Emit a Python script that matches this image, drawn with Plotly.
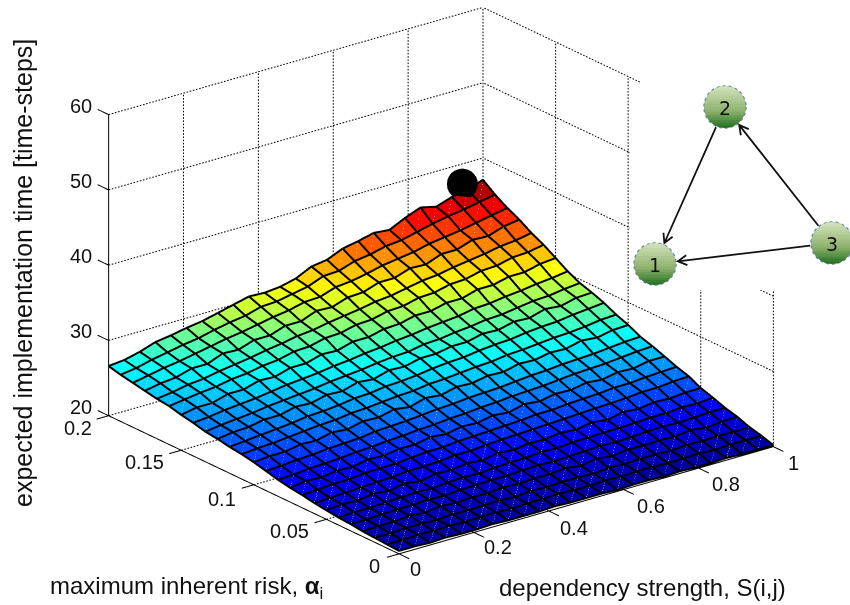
import numpy as np
import plotly.graph_objects as go

# ---------- data ----------
strength = [0.0, 0.0417, 0.0833, 0.125, 0.1667, 0.2083, 0.25, 0.2917, 0.3333, 0.375, 0.4167, 0.4583, 0.5,
            0.5417, 0.5833, 0.625, 0.6667, 0.7083, 0.75, 0.7917, 0.8333, 0.875, 0.9167, 0.9583, 1.0]
risk = [0.0, 0.0083, 0.0167, 0.025, 0.0333, 0.0417, 0.05, 0.0583, 0.0667, 0.075, 0.0833, 0.0917, 0.1,
        0.1083, 0.1167, 0.125, 0.1333, 0.1417, 0.15, 0.1583, 0.1667, 0.175, 0.1833, 0.1917, 0.2]
time_steps = [
[20.3,20.3,20.2,20.3,20.2,20.2,20.3,20.2,20.2,20.2,20.3,20.2,20.2,20.2,20.1,20.2,20.2,20.1,20.2,20.1,20.1,20.2,20.1,20.1,20.1],
[20.4,20.4,20.5,20.4,20.5,20.4,20.5,20.5,20.4,20.5,20.5,20.6,20.5,20.5,20.6,20.5,20.6,20.6,20.5,20.6,20.6,20.5,20.6,20.6,20.6],
[20.5,20.5,20.6,20.6,20.5,20.7,20.6,20.7,20.7,20.6,20.8,20.7,20.8,20.8,20.7,20.9,20.8,20.9,20.9,20.8,21.0,20.9,21.0,20.9,21.0],
[20.6,20.7,20.7,20.9,20.7,21.0,20.8,21.0,20.9,21.1,21.0,21.1,21.1,21.3,21.0,21.4,21.1,21.4,21.3,21.4,21.3,21.6,21.3,21.5,21.6],
[20.8,20.8,20.9,21.0,21.0,21.1,21.0,21.2,21.2,21.3,21.3,21.4,21.5,21.4,21.5,21.6,21.7,21.6,21.7,21.8,21.9,21.8,21.9,22.0,22.0],
[20.9,21.0,21.0,21.1,21.2,21.3,21.2,21.4,21.5,21.4,21.6,21.7,21.7,21.9,21.8,22.0,22.0,22.1,22.1,22.2,22.3,22.3,22.5,22.4,22.6],
[21.1,21.3,21.2,21.5,21.3,21.7,21.4,21.8,21.7,22.0,21.8,22.2,22.0,22.3,22.2,22.5,22.3,22.7,22.4,22.9,22.7,23.0,22.9,23.1,23.1],
[21.3,21.4,21.5,21.6,21.7,21.8,22.0,22.0,22.1,22.3,22.3,22.5,22.6,22.7,22.8,22.9,23.0,23.1,23.2,23.3,23.4,23.6,23.6,23.8,23.9],
[21.6,21.7,21.9,21.9,22.1,22.2,22.2,22.4,22.6,22.6,22.8,22.9,23.0,23.1,23.2,23.4,23.4,23.6,23.7,23.8,24.0,24.0,24.2,24.3,24.4],
[21.8,22.1,22.0,22.3,22.2,22.6,22.5,22.8,22.8,23.2,23.0,23.4,23.3,23.7,23.5,24.0,23.8,24.2,24.1,24.5,24.3,24.7,24.6,25.0,25.0],
[22.1,22.2,22.4,22.5,22.6,22.8,22.9,23.1,23.2,23.4,23.5,23.7,23.8,24.0,24.1,24.3,24.4,24.5,24.7,24.9,25.0,25.1,25.3,25.5,25.6],
[22.5,22.6,22.8,22.9,23.1,23.2,23.3,23.6,23.7,23.8,24.0,24.2,24.3,24.5,24.6,24.7,24.9,25.1,25.2,25.4,25.5,25.6,25.8,26.0,26.1],
[22.9,23.1,23.1,23.5,23.4,23.9,23.7,24.2,24.1,24.6,24.3,24.9,24.7,25.2,25.1,25.5,25.4,25.9,25.8,26.2,26.1,26.6,26.4,26.8,26.9],
[23.2,23.4,23.5,23.7,23.9,24.1,24.2,24.5,24.6,24.8,25.0,25.1,25.4,25.5,25.7,25.9,26.0,26.3,26.4,26.6,26.8,26.9,27.1,27.4,27.5],
[23.4,23.6,23.8,24.0,24.2,24.5,24.6,24.8,25.1,25.2,25.5,25.6,25.8,26.1,26.3,26.4,26.7,26.9,27.0,27.3,27.5,27.6,27.9,28.1,28.3],
[23.7,24.0,24.1,24.5,24.5,25.0,24.9,25.4,25.3,25.9,25.7,26.3,26.2,26.7,26.7,27.1,27.1,27.6,27.5,28.0,27.9,28.5,28.3,28.8,28.9],
[23.9,24.2,24.4,24.6,24.9,25.1,25.3,25.5,25.8,26.0,26.2,26.5,26.7,26.8,27.2,27.3,27.6,27.8,28.1,28.2,28.5,28.8,28.9,29.2,29.4],
[24.3,24.5,24.8,25.0,25.2,25.5,25.8,26.0,26.2,26.5,26.7,27.0,27.2,27.5,27.7,28.0,28.2,28.4,28.8,28.9,29.2,29.4,29.7,29.9,30.2],
[24.6,25.0,25.0,25.6,25.6,26.2,26.1,26.7,26.7,27.3,27.2,27.8,27.8,28.3,28.4,28.9,28.9,29.4,29.4,30.0,30.0,30.5,30.5,31.0,31.2],
[25.0,25.3,25.6,25.8,26.2,26.4,26.8,27.0,27.5,27.6,28.1,28.2,28.7,28.8,29.3,29.4,29.9,30.0,30.5,30.6,31.1,31.2,31.7,31.8,32.2],
[25.2,25.5,25.9,26.1,26.5,26.8,27.1,27.5,27.8,28.2,28.4,28.8,29.1,29.4,29.8,30.0,30.4,30.8,31.0,31.4,31.7,32.0,32.4,32.6,33.0],
[25.5,25.9,26.1,26.7,26.7,27.5,27.4,28.1,28.1,28.8,28.8,29.6,29.5,30.2,30.3,31.0,31.0,31.7,31.6,32.4,32.4,33.1,33.0,33.7,34.0],
[25.8,26.2,26.6,26.9,27.3,27.7,28.1,28.4,28.8,29.2,29.5,30.0,30.1,30.8,31.0,31.4,31.9,32.2,32.5,33.0,33.3,33.6,34.0,34.4,34.8],
[26.1,26.4,26.9,27.3,27.7,28.0,28.5,28.9,29.2,29.8,29.9,30.3,30.7,31.5,31.6,32.3,32.6,33.1,33.3,33.8,34.3,34.7,35.0,35.4,35.8],
[26.5,26.7,27.2,27.9,28.2,28.6,28.9,29.4,29.9,30.4,30.3,30.5,31.0,32.0,32.3,33.2,33.6,34.1,33.9,34.9,35.7,35.2,35.9,36.3,37.0],
]
peak_x, peak_y, peak_z = [0.944], [0.2], [37.4]

x_ticks = [0, 0.2, 0.4, 0.6, 0.8, 1]
x_tick_labels = ["0", "0.2", "0.4", "0.6", "0.8", "1"]
y_ticks = [0, 0.05, 0.1, 0.15, 0.2]
y_tick_labels = ["0", "0.05", "0.1", "0.15", "0.2"]
z_ticks = [20, 30, 40, 50, 60]
z_tick_labels = ["20", "30", "40", "50", "60"]

node_names = ["1", "2", "3"]
edges = [(1, 0), (2, 1), (2, 0)]

# ---------- layout constants ----------
W, H = 850, 605
FONT = "Liberation Sans"
node_px = [(655, 264), (725, 107), (832, 243)]
NODE_R = 21
X = np.array(strength); Y = np.array(risk); Z = np.array(time_steps)
nx, ny = len(X), len(Y)


def segs(pairs):
    xs, ys, zs = [], [], []
    for a, b in pairs:
        xs += [a[0], b[0], None]; ys += [a[1], b[1], None]; zs += [a[2], b[2], None]
    return xs, ys, zs


def line_trace(pairs, color="black", width=1, dash=None):
    xs, ys, zs = segs(pairs)
    return go.Scatter3d(x=xs, y=ys, z=zs, mode="lines", hoverinfo="skip", showlegend=False,
                        line=dict(color=color, width=width, dash=dash))


def dotted(a, b, n):
    a = np.array(a, float); b = np.array(b, float)
    out = []
    for s in range(n):
        out.append((tuple(a + (b - a) * s / n), tuple(a + (b - a) * (s + 0.5) / n)))
    return out


fig = go.Figure()

# surface as flat-coloured quads
gx, gy = np.meshgrid(X, Y)
idx = lambda r, c: r * nx + c
I, J, K, cell = [], [], [], []
for r in range(ny - 1):
    for c in range(nx - 1):
        v = Z[r:r + 2, c:c + 2].mean()
        I += [idx(r, c), idx(r, c)]
        J += [idx(r, c + 1), idx(r + 1, c + 1)]
        K += [idx(r + 1, c + 1), idx(r + 1, c)]
        cell += [v, v]
jet = [[0, "#00008f"], [0.125, "#0000ff"], [0.375, "#00ffff"], [0.625, "#ffff00"], [0.875, "#ff0000"], [1, "#800000"]]
fig.add_trace(go.Mesh3d(x=gx.ravel(), y=gy.ravel(), z=Z.ravel(), i=I, j=J, k=K,
                        intensity=cell, intensitymode="cell", colorscale=jet, cmin=20, cmax=37,
                        showscale=False, flatshading=True, hoverinfo="skip",
                        lighting=dict(ambient=1, diffuse=0, specular=0, fresnel=0, roughness=1)))

# faint seam inside each face
seams = []
for r in range(ny - 1):
    for c in range(nx - 1):
        seams.append(((X[c], Y[r], Z[r, c] + 0.07), (X[c + 1], Y[r + 1], Z[r + 1, c + 1] + 0.07)))
fig.add_trace(line_trace(seams, "rgba(255,255,255,0.28)", 1))

# mesh lines
lift = 0.1
pairs = []
for r in range(ny):
    for c in range(nx - 1):
        pairs.append(((X[c], Y[r], Z[r, c] + lift), (X[c + 1], Y[r], Z[r, c + 1] + lift)))
for c in range(nx):
    for r in range(ny - 1):
        pairs.append(((X[c], Y[r], Z[r, c] + lift), (X[c], Y[r + 1], Z[r + 1, c] + lift)))
fig.add_trace(line_trace(pairs, "black", 4))

# dotted grid on walls and floor
x0, x1 = x_ticks[0], x_ticks[-1]
y0, y1 = y_ticks[0], y_ticks[-1]
z0, z1 = z_ticks[0], z_ticks[-1]
grid = []
for z in z_ticks:
    grid += dotted((x0, y1, z), (x1, y1, z), 120)
    grid += dotted((x1, y0, z), (x1, y1, z), 100)
for x in x_ticks[1:]:
    grid += dotted((x, y1, z0), (x, y1, z1), 94)
for y in y_ticks[:-1]:
    grid += dotted((x1, y, z0), (x1, y, z1), 94)
for x in x_ticks[1:]:
    grid += dotted((x, y0, z0), (x, y1, z0), 100)
for y in y_ticks[1:]:
    grid += dotted((x0, y, z0), (x1, y, z0), 120)
fig.add_trace(line_trace(grid, "black", 2))

# solid axes and tick marks
axes = [((x0, y0, z0), (x1, y0, z0)), ((x0, y0, z0), (x0, y1, z0)), ((x0, y1, z0), (x0, y1, z1))]
for x in x_ticks:
    axes.append(((x, y0, z0), (x, y0 - 0.007, z0)))
for y in y_ticks:
    axes.append(((x0, y, z0), (x0 - 0.032, y, z0)))
for z in z_ticks:
    axes.append(((x0, y1, z), (x0, y1 + 0.0075, z)))
fig.add_trace(line_trace(axes, "black", 2))

# black point
fig.add_trace(go.Scatter3d(x=peak_x, y=peak_y, z=peak_z, mode="markers", hoverinfo="skip", showlegend=False,
                           marker=dict(size=18, color="black", line=dict(width=0))))

# tick labels
TICK = 20
def lab(x, y, z, t, dx, dy):
    return dict(x=x, y=y, z=z, text=t, showarrow=False, xshift=dx, yshift=-dy,
                font=dict(family=FONT, size=TICK, color="#111"), xanchor="center", yanchor="middle")


x_off = [(17, 15), (24, 15), (25, 17), (27, 16), (27, 16), (20, 16)]
y_off = [(-24, 12), (-37, 12), (-32, 14), (-37, 12), (-31, 12)]
z_off = [(-28, -9), (-28, -9), (-28, -9), (-28, -9), (-28, -9)]
scene_ann = []
for v, t, o in zip(x_ticks, x_tick_labels, x_off):
    scene_ann.append(lab(v, y0, z0, t, *o))
for v, t, o in zip(y_ticks, y_tick_labels, y_off):
    scene_ann.append(lab(x0, v, z0, t, *o))
for v, t, o in zip(z_ticks, z_tick_labels, z_off):
    scene_ann.append(lab(x0, y1, v, t, *o))

# ---------- overlay: white panel and small network ----------
pxx = lambda p: p / W
pxy = lambda p: 1 - p / H
shapes = []
for (a, b, c, d) in [(640, 850, 0, 100), (630, 850, 100, 290)]:
    shapes.append(dict(type="rect", xref="paper", yref="paper", x0=pxx(a), x1=pxx(b), y0=pxy(d), y1=pxy(c),
                       fillcolor="white", line=dict(width=0), layer="above"))


def mix(t):
    top = np.array([214, 228, 190]); mid = np.array([142, 178, 110]); bot = np.array([30, 110, 30])
    c = top + (mid - top) * t / 0.6 if t < 0.6 else mid + (bot - mid) * (t - 0.6) / 0.4
    return "rgb(%d,%d,%d)" % tuple(c)


def txt(px, py, text, size=24, family=FONT, **kw):
    return dict(x=pxx(px), y=pxy(py), xref="paper", yref="paper", text=text, showarrow=False,
                xanchor="center", yanchor="middle", font=dict(family=family, size=size, color="#111"), **kw)


annotations = []
for name, (cx, cy) in zip(node_names, node_px):
    shapes.append(dict(type="circle", xref="paper", yref="paper", x0=pxx(cx - NODE_R), x1=pxx(cx + NODE_R),
                       y0=pxy(cy + NODE_R), y1=pxy(cy - NODE_R), fillcolor="rgb(142,178,110)",
                       line=dict(color="#5f86a8", width=1.5, dash="dot"), layer="above"))
    n = 16
    for b in range(n):
        t0, t1 = -NODE_R + 2 * NODE_R * b / n, -NODE_R + 2 * NODE_R * (b + 1.15) / n
        t1 = min(t1, NODE_R)
        ts = np.linspace(t0, t1, 5)
        half = np.clip(np.sqrt(np.clip(NODE_R ** 2 - ts ** 2, 0, None)) - 0.5, 0, None)
        pts = [(cx - h, cy + s) for h, s in zip(half, ts)] + [(cx + h, cy + s) for h, s in zip(half[::-1], ts[::-1])]
        d = "M" + " L".join("%.5f,%.5f" % (pxx(a), pxy(c)) for a, c in pts) + " Z"
        shapes.append(dict(type="path", path=d, xref="paper", yref="paper", fillcolor=mix((b + .5) / n),
                           line=dict(width=0), layer="above"))
    annotations.append(txt(cx, cy + 1, name, size=19, family="DejaVu Sans"))

for a, b in edges:
    p = np.array(node_px[a], float); q = np.array(node_px[b], float)
    u = (q - p) / np.linalg.norm(q - p); n = np.array([-u[1], u[0]])
    tail = p + u * (NODE_R + 1); head = q - u * (NODE_R + 2)
    b1 = head - u * 9 + n * 5; b2 = head - u * 9 - n * 5
    P = lambda v: "%.5f,%.5f" % (pxx(v[0]), pxy(v[1]))
    shapes.append(dict(type="path", path=f"M{P(tail)} L{P(head)} M{P(b1)} L{P(head)} L{P(b2)}", xref="paper", yref="paper",
                       line=dict(color="#111", width=1.8), layer="above"))

# axis titles
annotations += [
    txt(23, 273, "expected implementation time [time-steps]", size=25, textangle=-90),
    txt(186, 587, "maximum inherent risk, <b>α</b><sub>i</sub>"),
    txt(642, 587, "dependency strength, S(i,j)"),
]

hidden = dict(visible=False, showgrid=False, zeroline=False, showspikes=False, showbackground=False, title="")
E = 2.0
CZ = -0.0777
fig.update_layout(
    width=W, height=H, margin=dict(l=0, r=0, t=0, b=0), paper_bgcolor="white", showlegend=False,
    shapes=shapes, annotations=annotations,
    scene=dict(
        domain=dict(x=[0.0376, 1], y=[0.0, 1]),
        xaxis=dict(range=[-0.05, 1.05], **hidden),
        yaxis=dict(range=[-0.01, 0.21], **hidden),
        zaxis=dict(range=[18, 62], **hidden),
        aspectmode="manual", aspectratio=dict(x=1.723, y=1.723, z=1.178),
        camera=dict(projection=dict(type="orthographic"), up=dict(x=0, y=0, z=1), center=dict(x=0, y=0, z=CZ),
                    eye=dict(x=-0.5696 * E, y=-0.7343 * E, z=0.369 * E + CZ)),
        annotations=scene_ann,
    ),
)
fig.write_html("out.html", post_script="document.body.style.margin='0';", config=dict(displayModeBar=False))
